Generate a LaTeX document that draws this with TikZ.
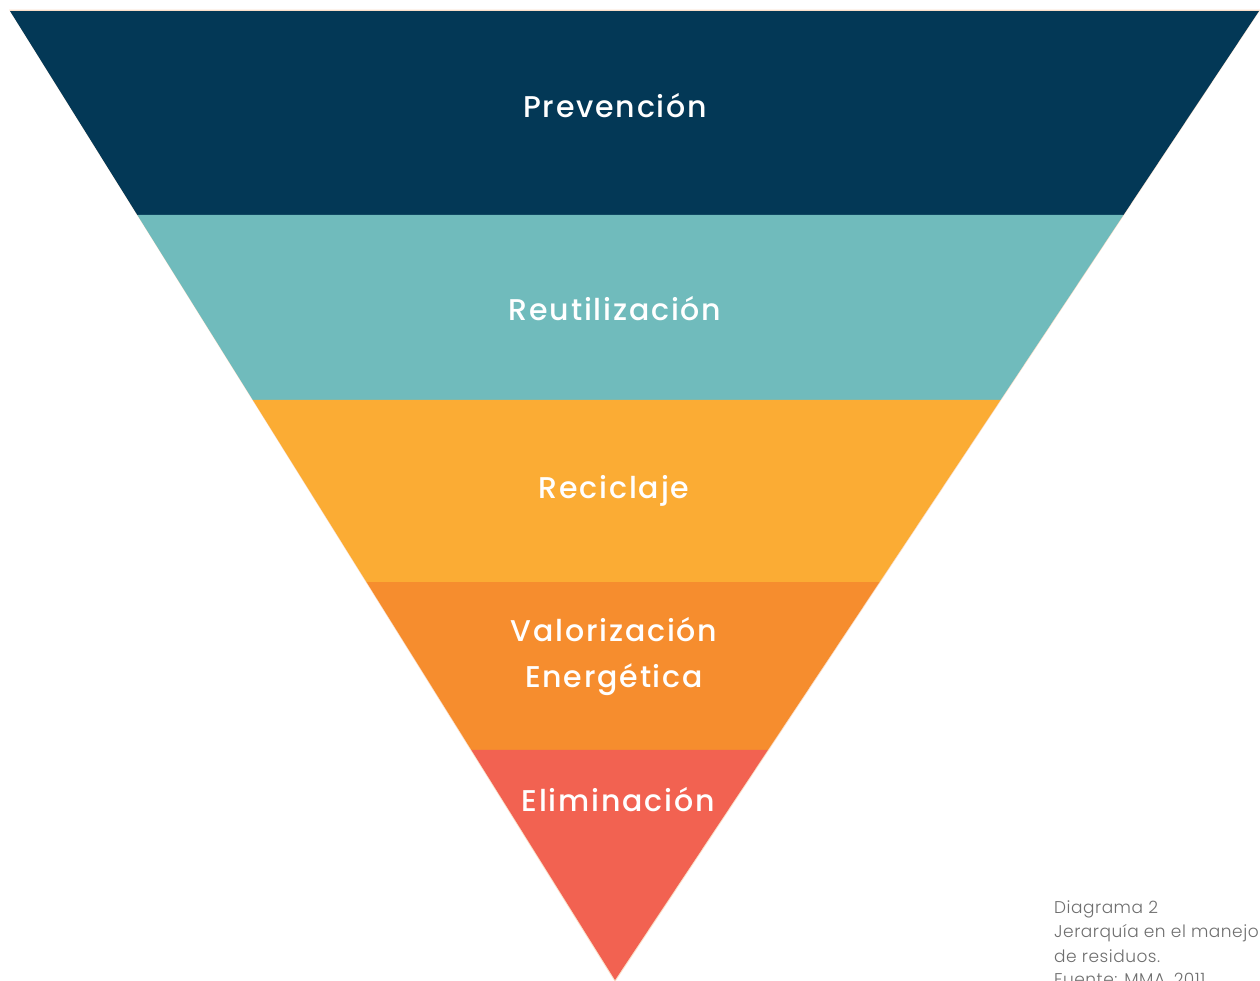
\documentclass[tikz,border=0pt]{standalone}
\usepackage{fontspec}
\setmainfont{Poppins}
\newfontfamily\labelfont[LetterSpace=6]{Poppins Medium}
\newfontfamily\capfont[LetterSpace=3]{Poppins Light}
\usetikzlibrary{calc}
\definecolor{navy}{RGB}{3,56,86}
\definecolor{teal}{RGB}{112,187,188}
\definecolor{amber}{RGB}{251,172,52}
\definecolor{tangerine}{RGB}{246,141,46}
\definecolor{coral}{RGB}{242,98,81}
\definecolor{rim}{RGB}{250,222,200}
\definecolor{capgrey}{RGB}{110,110,110}
\begin{document}
\begin{tikzpicture}[x=1pt,y=-1pt,
  lvl/.style={text=white,font=\labelfont\fontsize{30}{46}\selectfont,align=center,inner sep=0pt},
  caption/.style={text=capgrey,font=\capfont\fontsize{17}{24}\selectfont,align=left,anchor=north west,inner sep=0pt}]
\useasboundingbox (0,0) rectangle (1260,980);
\clip (0,0) rectangle (1260,980);
% outline of the inverted triangle
\coordinate (A) at (10,11);
\coordinate (B) at (1259,11);
\coordinate (C) at (615,980);
% left and right edge points at each band boundary
\foreach \n/\t in {1/0.2105,2/0.4014,3/0.5893,4/0.7626}{
  \coordinate (L\n) at ($(A)!\t!(C)$);
  \coordinate (R\n) at ($(B)!\t!(C)$);
}
\fill[rim] ($(A)+(-1,-1.5)$) -- ($(B)+(1.5,-1.5)$) -- ($(C)+(0,2)$) -- cycle;
\fill[navy] (A) -- (B) -- (R1) -- (L1) -- cycle;
\fill[teal] (L1) -- (R1) -- (R2) -- (L2) -- cycle;
\fill[amber] (L2) -- (R2) -- (R3) -- (L3) -- cycle;
\fill[tangerine] (L3) -- (R3) -- (R4) -- (L4) -- cycle;
\fill[coral] (L4) -- (R4) -- (C) -- cycle;
% level labels
\node[lvl] (prev) at (615,106) {Prevención};
\node[lvl] (reut) at (615,309) {Reutilización};
\node[lvl] (reci) at (614,491) {Reciclaje};
\node[lvl] (valo) at (614,656) {Valorización\\Energética};
\node[lvl] (elim) at (618,800) {Eliminación};
% caption, running off the lower edge
\node[caption] (cap) at (1054,901) {Diagrama 2\\Jerarquía en el manejo\\de residuos.\\Fuente: MMA, 2011};
\end{tikzpicture}
\end{document}
